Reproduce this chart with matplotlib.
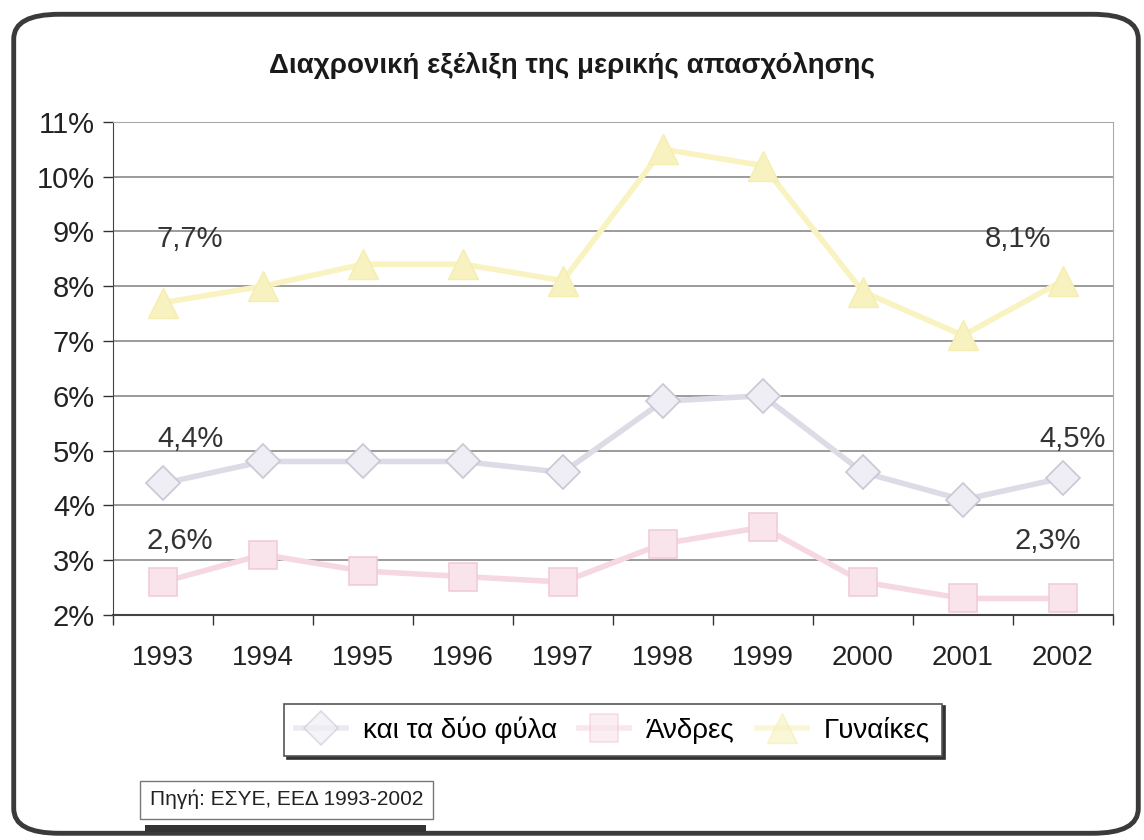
import matplotlib.pyplot as plt
import numpy as np
from matplotlib.patches import FancyBboxPatch, Rectangle
from matplotlib.ticker import FixedLocator, FuncFormatter

plt.rcParams['font.family'] = ['Liberation Sans', 'DejaVu Sans']

# Data
years = ['1993', '1994', '1995', '1996', '1997', '1998', '1999', '2000', '2001', '2002']
both_sexes = [4.4, 4.8, 4.8, 4.8, 4.6, 5.9, 6.0, 4.6, 4.1, 4.5]
men = [2.6, 3.1, 2.8, 2.7, 2.6, 3.3, 3.6, 2.6, 2.3, 2.3]
women = [7.7, 8.0, 8.4, 8.4, 8.1, 10.5, 10.2, 7.9, 7.1, 8.1]
series_names = ['και τα δύο φύλα', 'Άνδρες', 'Γυναίκες']

fig = plt.figure(figsize=(11.44, 8.4), dpi=100)

# rounded outer frame
frame = FancyBboxPatch((0.012, 0.008), 0.983, 0.975, boxstyle='round,pad=0,rounding_size=0.04',
                       transform=fig.transFigure, facecolor='white', edgecolor='#3a3a3a',
                       linewidth=3.5, mutation_aspect=840 / 1144, zorder=-5)
fig.patches.append(frame)

ax = fig.add_axes([0.0988, 0.268, 0.874, 0.587])
ax.patch.set_alpha(0)
x = np.arange(len(years))

ax.plot(x, both_sexes, color='#dcdce6', lw=4, marker='D', ms=17, mfc='#eeeef4',
        mec='#c8c8d4', mew=1.2, label=series_names[0], zorder=3)
ax.plot(x, men, color='#f5d8e2', lw=4, marker='s', ms=20, mfc='#f8e4ea',
        mec='#f0cdd8', mew=1.2, label=series_names[1], zorder=3)
ax.plot(x, women, color='#f8f3c0', lw=4, marker='^', ms=22, mfc='#f8f2c0',
        mec='#f5eeb0', mew=1, label=series_names[2], zorder=3)

ax.set_xlim(-0.5, 9.5)
ax.set_ylim(2, 11)
ax.set_yticks(np.arange(2, 12, 1))
ax.yaxis.set_major_formatter(FuncFormatter(lambda v, p: f'{v:.0f}%'))
ax.set_xticks(x)
ax.set_xticklabels(years)
ax.xaxis.set_minor_locator(FixedLocator(np.arange(-0.5, 10, 1)))
ax.tick_params(axis='x', which='major', length=0, pad=22, labelsize=20)
ax.tick_params(axis='x', which='minor', length=7, width=1, color='#333333')
ax.tick_params(axis='y', length=7, width=1, color='#333333', labelsize=21, pad=6)
for lbl in ax.get_xticklabels() + ax.get_yticklabels():
    lbl.set_color('#222222')

ax.grid(axis='y', color='#8a8a8a', lw=1.2)
ax.set_axisbelow(True)
ax.spines['left'].set_color('#444444')
ax.spines['bottom'].set_color('#444444')
ax.spines['bottom'].set_linewidth(1.5)
ax.spines['top'].set_color('#aaaaaa')
ax.spines['right'].set_color('#aaaaaa')

# data labels at the ends
lab_kw = dict(fontsize=21, color='#333333', ha='center', va='bottom')
ax.text(0.27, 8.6, '7,7%', **lab_kw)
ax.text(8.55, 8.6, '8,1%', **lab_kw)
ax.text(0.27, 4.95, '4,4%', **lab_kw)
ax.text(9.1, 4.95, '4,5%', **lab_kw)
ax.text(0.17, 3.1, '2,6%', **lab_kw)
ax.text(8.85, 3.1, '2,3%', **lab_kw)

fig.text(0.5, 0.922, 'Διαχρονική εξέλιξη της μερικής απασχόλησης', ha='center', va='center',
         fontsize=20, fontweight='bold', color='#1a1a1a')

leg = fig.legend(loc='center', bbox_to_anchor=(0.536, 0.131), ncol=3, fontsize=20,
                 frameon=True, fancybox=False, shadow={'color': '#333333', 'alpha': 1},
                 handlelength=1.8, handletextpad=0.6, columnspacing=0.8, borderpad=0.45)
leg.get_frame().set_edgecolor('#555555')
leg.get_frame().set_linewidth(1.2)
for h in leg.legend_handles:
    h.set_alpha(0.6)

fig.text(0.131, 0.048, 'Πηγή: ΕΣΥΕ, ΕΕΔ 1993-2002', fontsize=15, color='#222222', va='center',
         bbox=dict(boxstyle='square,pad=0.45', facecolor='white', edgecolor='#777777', lw=1))
fig.patches.append(Rectangle((0.127, 0.009), 0.245, 0.009, transform=fig.transFigure,
                             facecolor='#333333', edgecolor='none', zorder=-1))

fig.savefig('out.png', dpi=100)
